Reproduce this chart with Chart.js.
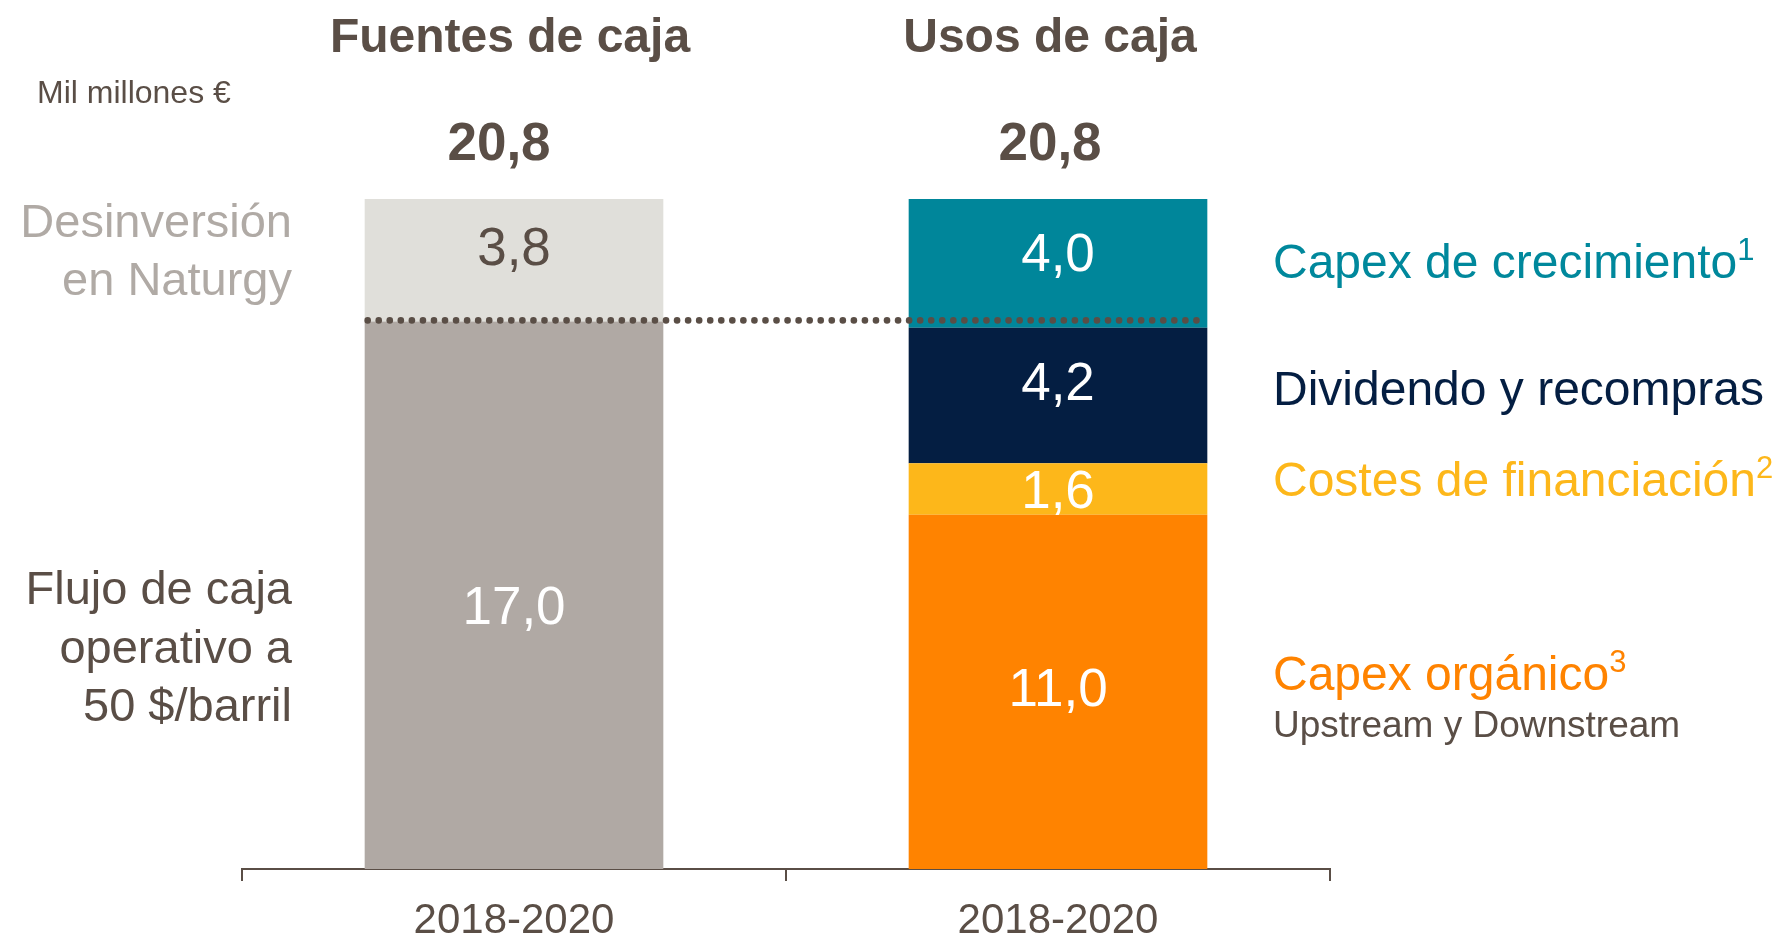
<!DOCTYPE html>
<html>
<head>
  <meta charset="utf-8">
  <script src="https://cdn.jsdelivr.net/npm/chart.js"></script>
  <style>
    body { margin: 0; background: #fff; }
    #wrap { width: 1779px; height: 939px; position: relative; }
  </style>
</head>
<body>
  <div id="wrap"><canvas id="cashChart"></canvas></div>

  <script>
    // Data (mil millones €)
    var categories = ['2018-2020', '2018-2020'];
    var groupTitles = ['Fuentes de caja', 'Usos de caja'];
    var flujoCaja = [17.0, null];
    var desinversion = [3.8, null];
    var capexOrganico = [null, 11.0];
    var costesFinanciacion = [null, 1.6];
    var dividendoRecompras = [null, 4.2];
    var capexCrecimiento = [null, 4.0];

    var BROWN = '#5a4e46';
    var FONT = '"Liberation Sans", Arial, sans-serif';

    function fmt(v) {
      return v.toFixed(1).replace('.', ',');
    }

    // Totals per column
    var totals = categories.map(function(_, i) {
      return [flujoCaja, desinversion, capexOrganico, costesFinanciacion, dividendoRecompras, capexCrecimiento]
        .reduce(function(s, arr) { return s + (arr[i] || 0); }, 0);
    });

    // Text with a small raised footnote number
    function textSup(ctx, text, sup, x, y, size, color) {
      ctx.fillStyle = color;
      ctx.font = size + 'px ' + FONT;
      ctx.textAlign = 'left';
      ctx.textBaseline = 'middle';
      ctx.fillText(text, x, y);
      if (sup) {
        var w = ctx.measureText(text).width;
        ctx.font = Math.round(size * 0.65) + 'px ' + FONT;
        ctx.fillText(sup, x + w, y - size * 0.28);
      }
    }

    var annotations = {
      id: 'annotations',
      afterDatasetsDraw: function(chart) {
        var ctx = chart.ctx;
        ctx.save();
        // values inside segments
        chart.data.datasets.forEach(function(ds, di) {
          var meta = chart.getDatasetMeta(di);
          meta.data.forEach(function(bar, i) {
            var v = ds.data[i];
            if (v == null) return;
            ctx.fillStyle = ds.labelColor;
            ctx.font = '53px ' + FONT;
            ctx.textAlign = 'center';
            ctx.textBaseline = 'middle';
            ctx.fillText(fmt(v), bar.x, (bar.y + bar.base) / 2 + (ds.labelShift || 0));
          });
        });

        // dotted line at the top of operating cash flow
        var y = chart.scales.y.getPixelForValue(flujoCaja[0]) - 1;
        var left = chart.getDatasetMeta(0).data[0];
        var right = chart.getDatasetMeta(2).data[1];
        var x0 = left.x - left.width / 2 + 3;
        var x1 = right.x + right.width / 2 - 3;
        ctx.fillStyle = BROWN;
        for (var x = x0; x <= x1; x += 11.05) {
          ctx.beginPath();
          ctx.arc(x, y, 3.3, 0, Math.PI * 2);
          ctx.fill();
        }
        ctx.restore();
      },
      afterDraw: function(chart) {
        var ctx = chart.ctx;
        var ys = chart.scales.y;
        ctx.save();
        ctx.textAlign = 'center';
        ctx.textBaseline = 'middle';

        // column titles and totals
        categories.forEach(function(_, i) {
          var cx = chart.getDatasetMeta(0).data[i].x;
          ctx.fillStyle = BROWN;
          ctx.font = 'bold 48px ' + FONT;
          ctx.fillText(groupTitles[i], cx - 4 * (i === 0 ? 1 : 2), 39);
          ctx.font = 'bold 53px ' + FONT;
          ctx.fillText(fmt(totals[i]), cx - 15 + (i === 0 ? 0 : 7), ys.getPixelForValue(totals[i]) - 54);
        });

        // unit
        ctx.textAlign = 'left';
        ctx.fillStyle = BROWN;
        ctx.font = '32px ' + FONT;
        ctx.fillText('Mil millones €', 37, 94);

        // left side labels
        ctx.textAlign = 'right';
        ctx.font = '47px ' + FONT;
        ctx.fillStyle = '#b0aaa5';
        ctx.fillText('Desinversión', 292, 224);
        ctx.fillText('en Naturgy', 292, 282);
        ctx.fillStyle = BROWN;
        ctx.fillText('Flujo de caja', 292, 591);
        ctx.fillText('operativo a', 292, 650);
        ctx.fillText('50 $/barril', 292, 708);

        // right side labels
        var lx = 1273;
        textSup(ctx, 'Capex de crecimiento', '1', lx, 265, 48, '#00889c');
        textSup(ctx, 'Dividendo y recompras', '', lx, 392, 48, '#041e42');
        textSup(ctx, 'Costes de financiación', '2', lx, 483, 48, '#fdb71a');
        textSup(ctx, 'Capex orgánico', '3', lx, 677, 48, '#ff8300');
        textSup(ctx, 'Upstream y Downstream', '', lx, 727, 37, BROWN);
        ctx.restore();
      }
    };

    var canvas = document.getElementById('cashChart');
    new Chart(canvas, {
      type: 'bar',
      data: {
        labels: categories,
        datasets: [
          { label: 'Flujo de caja operativo', data: flujoCaja, backgroundColor: '#b0a9a4', labelColor: '#ffffff', labelShift: 14 },
          { label: 'Desinversión en Naturgy', data: desinversion, backgroundColor: '#e0dfda', labelColor: BROWN, labelShift: -10 },
          { label: 'Capex orgánico', data: capexOrganico, backgroundColor: '#ff8300', labelColor: '#ffffff' },
          { label: 'Costes de financiación', data: costesFinanciacion, backgroundColor: '#fdb71a', labelColor: '#ffffff', labelShift: 4 },
          { label: 'Dividendo y recompras', data: dividendoRecompras, backgroundColor: '#041e42', labelColor: '#ffffff', labelShift: -10 },
          { label: 'Capex de crecimiento', data: capexCrecimiento, backgroundColor: '#00869a', labelColor: '#ffffff', labelShift: -7 }
        ]
      },
      options: {
        responsive: true,
        maintainAspectRatio: false,
        animation: false,
        layout: { padding: { left: 242, right: 449, top: 199, bottom: -22 } },
        datasets: { bar: { barPercentage: 0.549, categoryPercentage: 1, borderWidth: 0 } },
        plugins: { legend: { display: false }, tooltip: { enabled: false } },
        scales: {
          x: {
            stacked: true,
            grid: { offset: true, drawOnChartArea: false, tickLength: 12, color: BROWN, lineWidth: 2 },
            border: { display: true, color: BROWN, width: 2 },
            ticks: { color: BROWN, font: { family: FONT, size: 42, lineHeight: 1 }, padding: 19 }
          },
          y: {
            stacked: true,
            display: false,
            min: 0,
            max: 20.8
          }
        }
      },
      plugins: [annotations]
    });
  </script>
</body>
</html>
